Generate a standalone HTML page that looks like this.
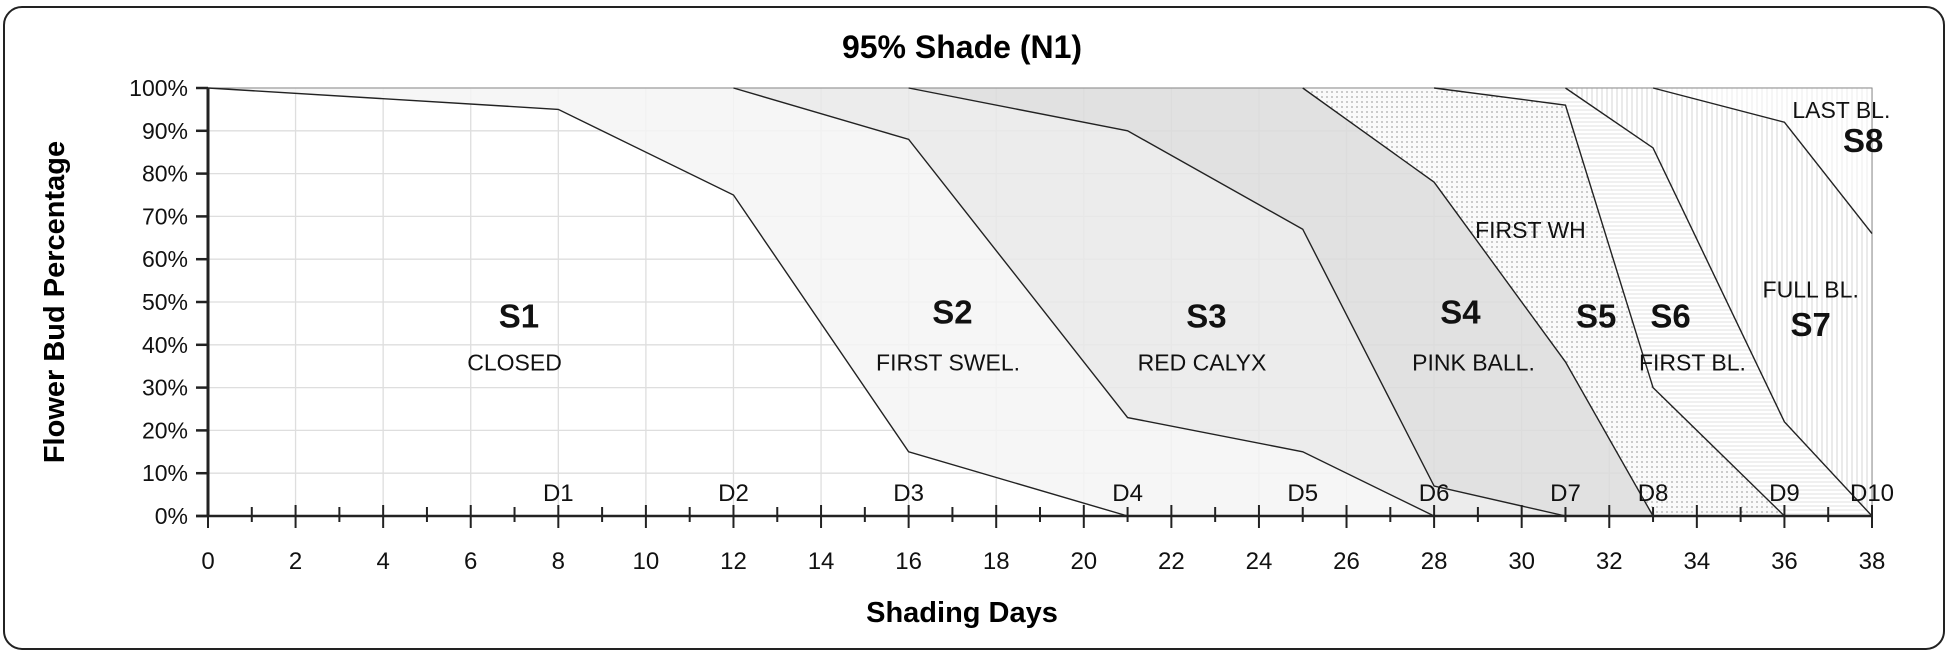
<!DOCTYPE html>
<html><head><meta charset="utf-8">
<style>
html,body{margin:0;padding:0;background:#fff;}
svg{display:block;font-family:"Liberation Sans",sans-serif;}
</style></head>
<body>
<svg id="chart" width="1949" height="654" viewBox="0 0 1949 654" xmlns="http://www.w3.org/2000/svg">
<defs>
<pattern id="dots" width="5" height="5" patternUnits="userSpaceOnUse"><rect width="5" height="5" fill="#fafafa"/><circle cx="2" cy="2" r="0.9" fill="#aaa"/></pattern>
<pattern id="hlines" width="4" height="4" patternUnits="userSpaceOnUse"><rect width="4" height="4" fill="#fff"/><line x1="0" y1="2" x2="4" y2="2" stroke="#e2e2e2" stroke-width="1"/></pattern>
<pattern id="vlines" width="5" height="5" patternUnits="userSpaceOnUse"><rect width="5" height="5" fill="#fff"/><line x1="2" y1="0" x2="2" y2="5" stroke="#d4d4d4" stroke-width="1"/></pattern>
<pattern id="vlines2" width="5" height="5" patternUnits="userSpaceOnUse"><rect width="5" height="5" fill="#fff"/><line x1="2" y1="0" x2="2" y2="5" stroke="#ececec" stroke-width="1"/></pattern>
</defs>
<rect x="4" y="7" width="1940" height="642" rx="18" fill="#fff" stroke="#222" stroke-width="2"/>
<text x="962" y="58" font-size="32" font-weight="bold" text-anchor="middle">95% Shade (N1)</text>
<g id="plot"></g>
<text x="962" y="622" font-size="29" font-weight="bold" text-anchor="middle">Shading Days</text>
<text transform="translate(64,302) rotate(-90)" font-size="29" font-weight="bold" text-anchor="middle">Flower Bud Percentage</text>
</svg>
<script>
const boundaryDays = [
  [0,8,12,16,21],
  [12,16,21,25,28],
  [16,21,25,28,31],
  [25,28,31,33],
  [28,31,33,36],
  [31,33,36,38],
  [33,36,38]
];
const boundaryPcts = [
  [100,95,75,15,0],
  [100,88,23,15,0],
  [100,90,67,7,0],
  [100,78,36,0],
  [100,96,30,0],
  [100,86,22,0],
  [100,92,66]
];
const regionFills = ['#f5f5f5','#e9e9e9','#dcdcdc','url(#dots)','url(#hlines)','url(#vlines)','url(#vlines2)'];
const xTicks = [0,2,4,6,8,10,12,14,16,18,20,22,24,26,28,30,32,34,36,38];
const yTicks = [0,10,20,30,40,50,60,70,80,90,100];
const dLabels = ['D1','D2','D3','D4','D5','D6','D7','D8','D9','D10'];
const dDays = [8,12,16,21,25,28,31,33,36,38];
const stageNames = ['S1','S2','S3','S4','S5','S6','S7','S8'];
const stageX = [7.1,17.0,22.8,28.6,31.7,33.4,36.6,37.8];
const stageY = [44,45,44,45,44,44,42,85];
const subNames = ['CLOSED','FIRST SWEL.','RED CALYX','PINK BALL.','FIRST WH','FIRST BL.','FULL BL.','LAST BL.'];
const subX = [7.0,16.9,22.7,28.9,30.2,33.9,36.6,37.3];
const subY = [34,34,34,34,65,34,51,93];

const X0=208, X1=1872, Y0=516, Y1=88, XMAX=38;
const sx = d => X0 + d/XMAX*(X1-X0);
const sy = p => Y0 - p/100*(Y0-Y1);
const NS='http://www.w3.org/2000/svg';
const plot=document.getElementById('plot');
function mk(tag, attrs, parent){const e=document.createElementNS(NS,tag);for(const k in attrs)e.setAttribute(k,attrs[k]);(parent||plot).appendChild(e);return e;}

const bg=mk('rect',{x:X0,y:Y1,width:X1-X0,height:Y0-Y1,fill:'#fff'});


xTicks.forEach(t=>{const l=mk('line',{x1:sx(t),x2:sx(t),y1:Y1,y2:Y0,stroke:'#dedede','stroke-width':1.3});

});
yTicks.forEach(t=>{const l=mk('line',{x1:X0,x2:X1,y1:sy(t),y2:sy(t),stroke:'#dedede','stroke-width':1.3});

});

function bpts(i){return boundaryDays[i].map((d,k)=>[sx(d),sy(boundaryPcts[i][k])]);}
for(let i=0;i<boundaryDays.length;i++){
  const a=bpts(i);
  let pts;
  if(i+1<boundaryDays.length){
    const b=bpts(i+1).slice().reverse();
    const aEnd=a[a.length-1], bEnd=b[0];
    pts=a.concat(bEnd[0]>aEnd[0]?[[bEnd[0],Y0]]:[]).concat(b);
  } else {
    pts=a.concat([[X1,Y1]]);
  }
  const poly=mk('polygon',{points:pts.map(p=>p.join(',')).join(' '),fill:regionFills[i],stroke:'none','fill-opacity':i<3?0.85:1});
  
  
}
const pb=mk('polyline',{points:`${X0},${Y1} ${X1},${Y1} ${X1},${Y0}`,fill:'none',stroke:'#888','stroke-width':1});


for(let i=0;i<boundaryDays.length;i++){
  const l=mk('polyline',{points:bpts(i).map(p=>p.join(',')).join(' '),fill:'none',stroke:'#222','stroke-width':1.4});
  
  
}
const ya=mk('line',{x1:X0,x2:X0,y1:Y1,y2:Y0,stroke:'#222','stroke-width':3});


const xa=mk('line',{x1:X0-12,x2:X1,y1:Y0,y2:Y0,stroke:'#222','stroke-width':2.5});


yTicks.forEach(t=>{
  const l=mk('line',{x1:X0-12,x2:X0,y1:sy(t),y2:sy(t),stroke:'#222','stroke-width':2.5});
  
  
  const tx=mk('text',{x:X0-20,y:sy(t)+8,'font-size':23,'text-anchor':'end',fill:'#111'});
  tx.textContent=t+'%';
  
  
});
for(let d=0;d<=XMAX;d++){
  const major=d%2===0;
  const l=mk('line',{x1:sx(d),x2:sx(d),y1:Y0-(major?11:9),y2:Y0+(major?12:6),stroke:'#222','stroke-width':2});
  
  
}
xTicks.forEach(t=>{
  const tx=mk('text',{x:sx(t),y:Y0+53,'font-size':24,'text-anchor':'middle',fill:'#111'});
  tx.textContent=t;
  
  
});
dLabels.forEach((s,i)=>{
  const tx=mk('text',{x:sx(dDays[i]),y:sy(3.5),'font-size':24,'text-anchor':'middle',fill:'#111'});
  tx.textContent=s;
  
  
});
stageNames.forEach((s,i)=>{
  const tx=mk('text',{x:sx(stageX[i]),y:sy(stageY[i]),'font-size':33,'font-weight':'bold','text-anchor':'middle',fill:'#111'});
  tx.textContent=s;
  
  
});
subNames.forEach((s,i)=>{
  const tx=mk('text',{x:sx(subX[i]),y:sy(subY[i]),'font-size':23,'text-anchor':'middle',fill:'#111'});
  tx.textContent=s;
  
  
});
</script>
</body></html>
